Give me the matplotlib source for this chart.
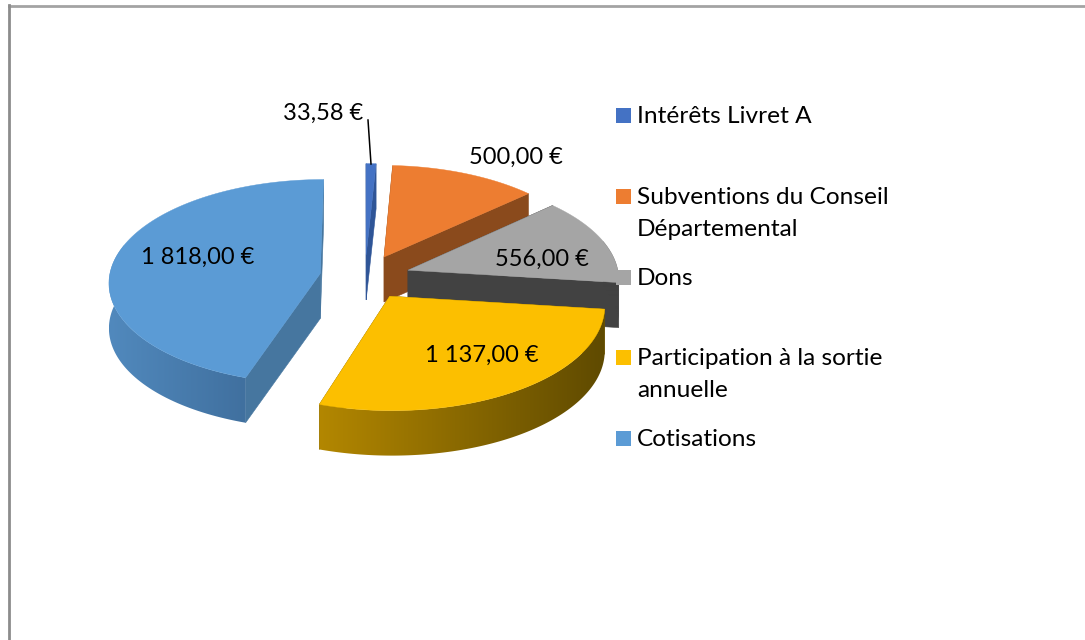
import numpy as np
import matplotlib
matplotlib.use("Agg")
import matplotlib.pyplot as plt
from matplotlib.colors import LinearSegmentedColormap
from matplotlib.patches import Polygon, Rectangle

categories = ["Intérêts Livret A", "Subventions du Conseil\nDépartemental", "Dons",
              "Participation à la sortie\nannuelle", "Cotisations"]
values = [33.58, 500.00, 556.00, 1137.00, 1818.00]
value_labels = ["33,58 €", "500,00 €", "556,00 €", "1 137,00 €", "1 818,00 €"]

top_colors = ["#4472c4", "#ed7d31", "#a5a5a5", "#fcbf00", "#5b9bd5"]
side_colors = ["#2f5597", "#8a4a1c", "#424242", "#7a5e00", "#46769f"]
wall_left = ["#4472c4", "#8a4a1c", "#424242", "#b38700", "#5189bd"]
wall_right = ["#2f5597", "#8a4a1c", "#424242", "#5f4a00", "#40709f"]
label_xy = [(323, 113), (516, 157), (542, 259), (482, 355), (198, 257)]
legend_y = [115, 196, 277, 357, 438]

plt.rcParams['font.family'] = ['Lato', 'DejaVu Sans']

# projection of the tilted disc, in pixels
cx, cy = 365, 277
rx, ry = 211, 102
height = 45
persp = 0.08
explode_u, explode_v = 0.215, 0.22


def project(u, v, z=0):
    s = 1 / (1 + persp * v)
    return cx + rx * u * s, cy - ry * v * s + height * z


fig = plt.figure(figsize=(10.85, 6.4), dpi=100)
ax = fig.add_axes([0, 0, 1, 1])
ax.axis('off')

# frame of the chart: only top and left show
ax.plot([8.5, 1085], [5.5, 5.5], color="#a3a3a3", lw=2)
ax.plot([9, 9], [5, 640], color="#8c8c8c", lw=2)

edges = np.cumsum([0] + values) / sum(values) * 2 * np.pi
draw_order = [0, 1, 2, 4, 3]

for order, i in enumerate(draw_order):
    z = 2 + order
    t0, t1 = edges[i], edges[i + 1]
    mid = (t0 + t1) / 2
    eu, ev = explode_u * np.sin(mid), explode_v * np.cos(mid)
    t = np.linspace(t0, t1, 120)
    u = eu + np.sin(t)
    v = ev + np.cos(t)

    # straight walls from the centre to both ends of the arc
    for end in (t0, t1):
        pts = [project(eu, ev), project(eu + np.sin(end), ev + np.cos(end)),
               project(eu + np.sin(end), ev + np.cos(end), 1), project(eu, ev, 1)]
        ax.add_patch(Polygon(pts, fc=side_colors[i], ec=side_colors[i], lw=0.4, zorder=z))

    # outer wall, shaded from left to right
    front = np.cos(t) < 0.3
    if front.sum() > 1:
        upper = [project(a, b) for a, b in zip(u[front], v[front])]
        lower = [project(a, b, 1) for a, b in zip(u[front], v[front])]
        outline = Polygon(upper + lower[::-1], fc='none', ec='none', transform=ax.transData)
        ax.add_patch(outline)
        xy = np.array(upper + lower)
        cmap = LinearSegmentedColormap.from_list("wall", [wall_left[i], wall_right[i]])
        im = ax.imshow(np.linspace(0, 1, 256).reshape(1, -1), cmap=cmap, aspect='auto',
                       extent=(xy[:, 0].min(), xy[:, 0].max(), xy[:, 1].max(), xy[:, 1].min()),
                       zorder=z)
        im.set_clip_path(outline)

    # top face
    pts = [project(eu, ev)] + [project(a, b) for a, b in zip(u, v)]
    ax.add_patch(Polygon(pts, fc=top_colors[i], ec=top_colors[i], lw=0.3, zorder=z))

ax.set_xlim(0, 1085)
ax.set_ylim(640, 0)

# leader line of the smallest slice
ax.plot([368, 371], [120, 164], color="black", lw=1.1, zorder=10)

for txt, (x, y) in zip(value_labels, label_xy):
    ax.text(x, y, txt, fontsize=17, ha='center', va='center', color="black", zorder=10)

for name, col, y in zip(categories, top_colors, legend_y):
    ax.add_patch(Rectangle((616, y - 7.5), 15, 15, fc=col, ec='none', zorder=11))
    for n, line in enumerate(name.split("\n")):
        ax.text(637, y + 8 + 32 * n, line, fontsize=17.6, ha='left', va='baseline',
                color="black", zorder=11)

fig.savefig("out.png", dpi=100)
